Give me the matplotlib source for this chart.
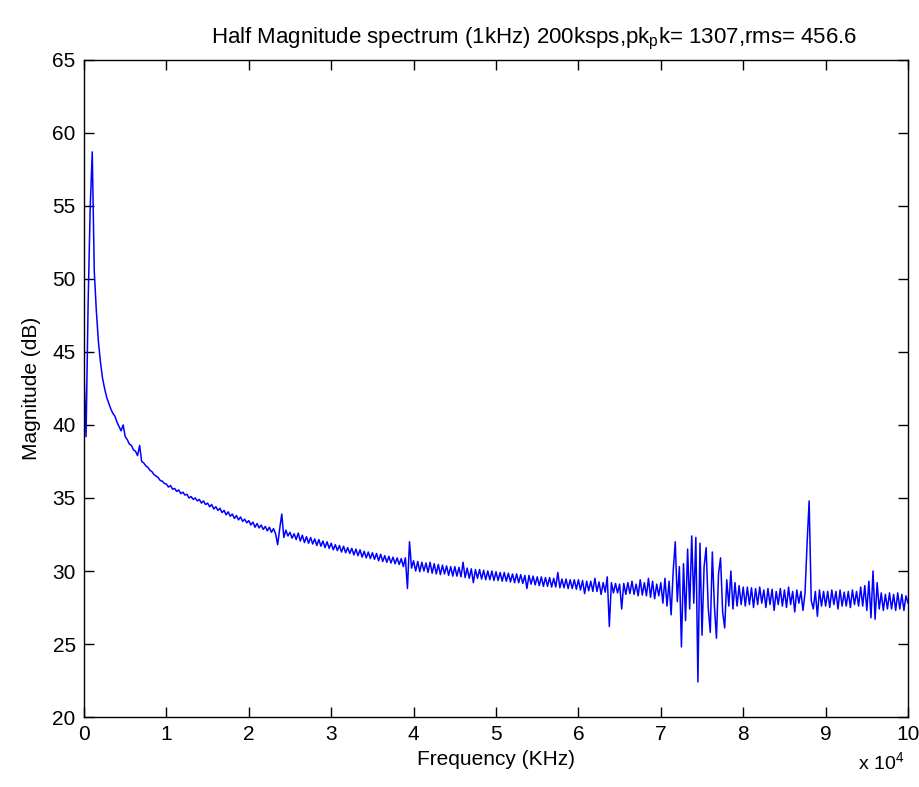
import numpy as np
import matplotlib.pyplot as plt

plt.rcParams['font.family'] = ['Liberation Sans', 'DejaVu Sans']

# frequency bins, 250 Hz apart
step_hz = 250
mag_db = [
    # 0 - 4750
    43.6, 39.2, 48.3, 54.8, 58.7, 50.5, 47.8, 45.7, 44.3, 43.2,
    42.5, 41.9, 41.5, 41.1, 40.8, 40.6, 40.2, 39.9, 39.6, 40.0,
    # 5000 - 9750
    39.2, 39.0, 38.7, 38.6, 38.3, 38.2, 37.9, 38.6, 37.5, 37.4,
    37.2, 37.1, 36.9, 36.8, 36.6, 36.5, 36.4, 36.2, 36.15, 36.0,
    # 10000 - 14750
    35.95, 35.75, 35.85, 35.6, 35.65, 35.45, 35.55, 35.3, 35.4, 35.2,
    35.25, 35.0, 35.1, 34.9, 35.0, 34.8, 34.9, 34.65, 34.8, 34.55,
    # 15000 - 19750
    34.65, 34.4, 34.55, 34.25, 34.4, 34.15, 34.3, 34.0, 34.15, 33.85,
    34.05, 33.75, 33.9, 33.6, 33.8, 33.5, 33.7, 33.4, 33.55, 33.3,
    # 20000 - 24750
    33.45, 33.15, 33.35, 33.0, 33.25, 32.95, 33.15, 32.85, 33.05, 32.75,
    33.0, 32.65, 32.9, 32.55, 31.8, 32.9, 33.9, 32.3, 32.8, 32.4,
    # 25000 - 29750
    32.65, 32.25, 32.55, 32.15, 32.6, 32.05, 32.45, 31.95, 32.35, 31.9,
    32.3, 31.85, 32.2, 31.75, 32.15, 31.7, 32.05, 31.6, 32.0, 31.55,
    # 30000 - 34750
    31.9, 31.45, 31.8, 31.4, 31.75, 31.3, 31.7, 31.25, 31.6, 31.2,
    31.55, 31.1, 31.5, 31.05, 31.45, 30.95, 31.35, 30.9, 31.3, 30.85,
    # 35000 - 39750
    31.25, 30.8, 31.2, 30.7, 31.15, 30.65, 31.05, 30.6, 31.0, 30.55,
    30.95, 30.5, 30.9, 30.45, 30.85, 30.3, 30.9, 28.8, 32.0, 30.2,
    # 40000 - 44750
    30.7, 30.0, 30.65, 29.95, 30.6, 30.0, 30.55, 29.9, 30.6, 29.85,
    30.5, 29.8, 30.45, 29.75, 30.4, 29.8, 30.35, 29.7, 30.3, 29.65,
    # 45000 - 49750
    30.3, 29.65, 30.25, 29.6, 30.6, 29.55, 30.2, 29.5, 30.15, 29.2,
    30.1, 29.5, 30.1, 29.45, 30.05, 29.4, 30.0, 29.4, 30.0, 29.35,
    # 50000 - 54750
    29.95, 29.35, 29.9, 29.3, 29.9, 29.3, 29.85, 29.25, 29.8, 29.2,
    29.8, 29.2, 29.75, 29.15, 29.7, 28.8, 29.7, 29.1, 29.65, 29.05,
    # 55000 - 59750
    29.6, 29.0, 29.6, 28.95, 29.55, 28.95, 29.55, 28.9, 29.5, 28.9,
    29.9, 28.85, 29.45, 28.85, 29.45, 28.8, 29.4, 28.8, 29.4, 28.75,
    # 60000 - 64750
    29.4, 28.7, 29.35, 28.45, 29.3, 28.65, 29.3, 28.6, 29.5, 28.6,
    29.25, 28.4, 29.2, 28.55, 29.6, 26.2, 29.2, 28.5, 29.15, 28.5,
    # 65000 - 69750
    29.1, 27.4, 29.15, 28.4, 29.2, 28.45, 29.3, 28.4, 29.1, 28.3,
    29.4, 28.35, 29.2, 28.3, 29.5, 28.2, 29.3, 28.1, 29.1, 28.3,
    # 70000 - 74750
    29.2, 27.8, 29.5, 27.6, 29.3, 27.0, 30.0, 32.0, 27.9, 30.3,
    24.8, 30.5, 26.6, 31.5, 27.4, 32.4, 27.8, 32.3, 22.4, 31.9,
    # 75000 - 79750
    25.6, 30.3, 31.6, 27.5, 25.8, 31.3, 27.6, 25.4, 29.8, 30.9,
    27.2, 26.1, 29.4, 27.6, 30.0, 27.4, 29.2, 27.6, 29.0, 27.7,
    # 80000 - 84750
    28.9, 27.6, 28.9, 27.7, 28.85, 27.5, 28.8, 27.7, 28.9, 27.8,
    28.7, 27.5, 28.8, 27.7, 28.75, 27.3, 28.6, 27.7, 28.8, 27.6,
    # 85000 - 89750
    28.7, 27.5, 28.9, 27.7, 28.6, 27.2, 28.7, 27.8, 28.6, 27.3,
    28.5, 31.9, 34.8, 28.0, 27.4, 28.6, 26.9, 28.7, 27.6, 28.6,
    # 90000 - 94750
    27.6, 28.6, 27.5, 28.7, 27.7, 28.6, 27.4, 28.7, 27.6, 28.55,
    27.6, 28.6, 27.5, 28.7, 27.7, 28.6, 27.6, 28.9, 27.6, 29.0,
    # 95000 - 99750
    27.3, 29.3, 26.8, 30.0, 26.7, 29.2, 27.4, 28.5, 27.3, 28.4,
    27.4, 28.5, 27.4, 28.4, 27.3, 28.5, 27.4, 28.4, 27.3, 28.3,
    # 100000
    27.8,
]
freq_hz = np.arange(len(mag_db)) * step_hz

x_ticks = np.arange(0, 100001, 10000)
x_labels = [str(i) for i in range(11)]
y_ticks = np.arange(20, 66, 5)

fig = plt.figure(figsize=(9.2, 7.87), dpi=100)
ax = fig.add_axes([0.0913, 0.0889, 0.8957, 0.835])
ax.plot(freq_hz, mag_db, color='#0000ff', lw=1.1)

ax.set_xlim(0, 100000)
ax.set_ylim(20, 65)
ax.set_xticks(x_ticks)
ax.set_xticklabels(x_labels)
ax.set_yticks(y_ticks)
ax.tick_params(direction='in', length=7, width=1, top=True, right=True,
               labelsize=15, pad=6)
for s in ax.spines.values():
    s.set_linewidth(1)

ax.set_title('Half Magnitude spectrum (1kHz) 200ksps,pk$_\\mathregular{p}$k= 1307,rms= 456.6',
             fontsize=16, pad=12, x=0.546)
ax.set_xlabel('Frequency (KHz)', fontsize=15, labelpad=4)
ax.set_ylabel('Magnitude (dB)', fontsize=15, labelpad=8)
fig.text(0.958, 0.017, 'x 10$^\\mathregular{4}$', fontsize=14, ha='center', va='bottom')

fig.savefig('out.png', dpi=100, facecolor='white')
